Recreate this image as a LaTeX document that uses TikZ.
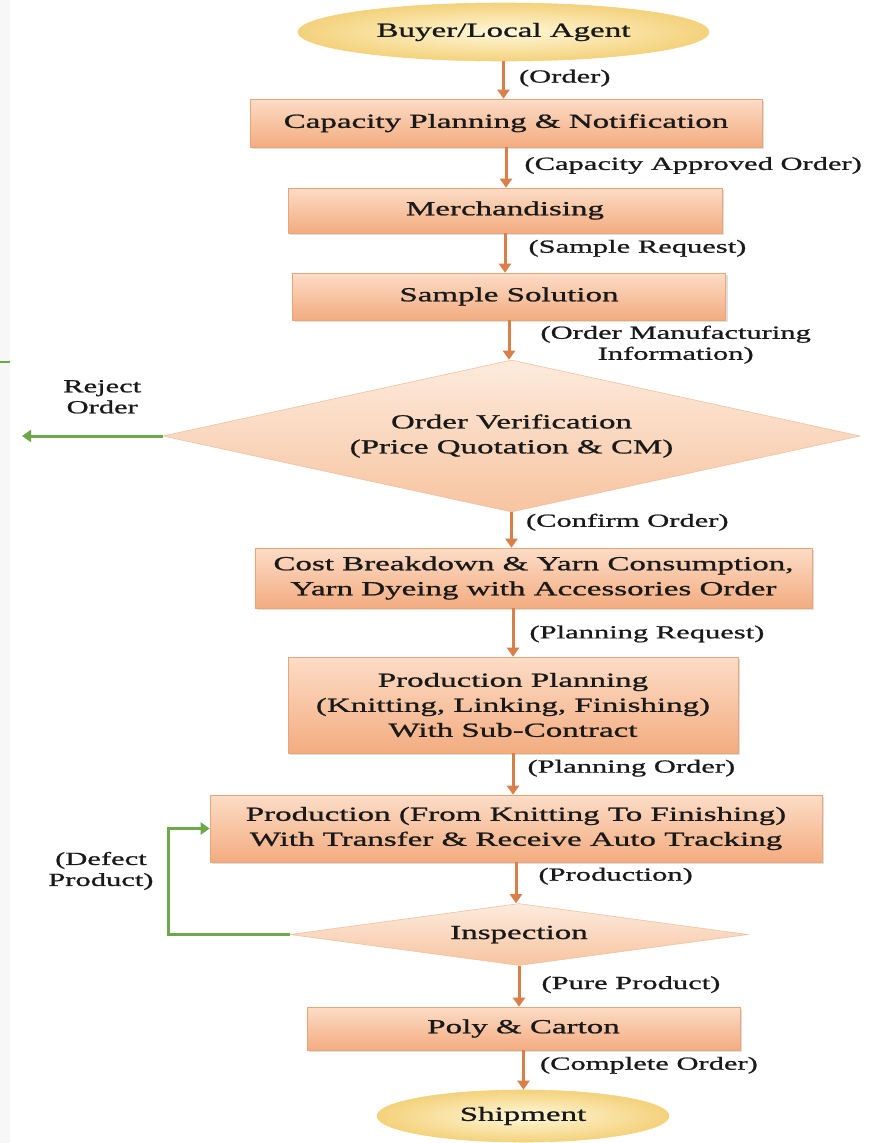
\documentclass[tikz,border=0pt]{standalone}
\usepackage{fontspec}
\setmainfont{Liberation Serif}[FakeStretch=1.65,FakeBold=1]
\usetikzlibrary{arrows.meta,shapes.geometric,positioning,shadows}
\definecolor{boxtop}{HTML}{FCDCC6}
\definecolor{boxbot}{HTML}{F3AC80}
\definecolor{boxline}{HTML}{E9A57A}
\definecolor{diatop}{HTML}{FDEBDD}
\definecolor{diabot}{HTML}{F7C4A0}
\definecolor{ovalin}{HTML}{FFF8DA}
\definecolor{ovalout}{HTML}{F4D27C}
\definecolor{flowcol}{HTML}{D9804A}
\definecolor{backcol}{HTML}{6EA84B}
\newcommand{\boxfont}{\fontsize{20}{25}\selectfont}
\newcommand{\labfont}{\fontsize{18.5}{21}\selectfont}
\tikzset{>={Triangle[width=12pt,length=9pt]}}
\tikzset{process/.style={shape=rectangle, draw=boxline, line width=0.6pt,
    top color=boxtop, bottom color=boxbot, inner sep=0pt, align=center,
    drop shadow={shadow xshift=2pt, shadow yshift=-2pt, opacity=0.25},
    font=\boxfont, text=black!90}}
\tikzset{decision/.style={shape=diamond, draw=boxline!70, line width=0.6pt,
    top color=diatop, bottom color=diabot, inner sep=0pt, align=center,
    font=\boxfont, text=black!90}}
\tikzset{terminal/.style={shape=ellipse, draw=ovalout, line width=0.6pt,
    inner color=ovalin, outer color=ovalout, inner sep=0pt,
    font=\boxfont, text=black!90}}
\tikzset{flow/.style={->, draw=flowcol, line width=3pt}}
\tikzset{back/.style={->, draw=backcol, line width=3pt}}
\tikzset{note/.style={font=\labfont, inner sep=3pt, align=center, text=black!90}}

\begin{document}
\begin{tikzpicture}[x=1pt, y=-1pt]
    \useasboundingbox (0,0) rectangle (889,1143);
    % slide edge
    \fill[gray!6] (0,0) rectangle (10,1143);
    \draw[backcol, line width=2pt] (0,362) -- (10,362);

    % order intake
    \node[terminal, minimum width=411pt, minimum height=58pt] (buyer) at (503.5,32) {Buyer/Local Agent};
    \node[process, minimum width=512pt, minimum height=48pt] (cap) at (506,123) {Capacity Planning \& Notification};
    \node[process, minimum width=434pt, minimum height=45pt] (merch) at (505,210.5) {Merchandising};
    \node[process, minimum width=433pt, minimum height=47pt] (sample) at (509,296.5) {Sample Solution};
    \node[decision, minimum width=697pt, minimum height=152pt, aspect=4.6] (ov) at (511.5,436) {Order Verification\\(Price Quotation \& CM)};
    \coordinate (reject) at (22,436);

    % production
    \node[process, minimum width=557pt, minimum height=60pt] (cost) at (533.5,578) {Cost Breakdown \& Yarn Consumption,\\Yarn Dyeing with Accessories Order};
    \node[process, minimum width=450pt, minimum height=96pt] (pp) at (513,705) {Production Planning\\(Knitting, Linking, Finishing)\\With Sub-Contract};
    \node[process, minimum width=612pt, minimum height=67pt] (prod) at (516,828.5) {Production (From Knitting To Finishing)\\With Transfer \& Receive Auto Tracking};
    \node[decision, minimum width=458pt, minimum height=62pt, aspect=7.4] (insp) at (519,934.5) {Inspection};
    \coordinate (bend) at (168,934.5);
    \node[process, minimum width=433pt, minimum height=43pt] (poly) at (523.5,1028.5) {Poly \& Carton};
    \node[terminal, minimum width=292pt, minimum height=52pt] (ship) at (523,1116) {Shipment};

    \draw [flow] (buyer.south) to node [note, right=11pt, pos=0.45] {(Order)} (buyer.south |- cap.north);
    \draw [flow] (cap.south) to node [note, right=14pt, pos=0.45] {(Capacity Approved Order)} (cap.south |- merch.north);
    \draw [flow] (merch.south) to node [note, right=19pt, pos=0.38] {(Sample Request)} (merch.south |- sample.north);
    \draw [flow] (sample.south) to node [note, right=27pt, pos=0.62] {(Order Manufacturing\\Information)} (sample.south |- ov.north);
    \draw [back] (ov.west) to node [note, above=18pt, pos=0.43] {Reject\\Order} (reject);
    \draw [flow] (ov.south) to node [note, right=10pt, pos=0.28] {(Confirm Order)} (ov.south |- cost.north);
    \draw [flow] (cost.south -| pp.north) to node [note, right=12pt, pos=0.53] {(Planning Request)} (pp.north);
    \draw [flow] (pp.south) to node [note, right=10pt, pos=0.36] {(Planning Order)} (pp.south |- prod.north);
    \draw [flow] (prod.south) to node [note, right=18pt, pos=0.34] {(Production)} (prod.south |- insp.north);
    \draw [back] (insp.west) -- (bend) |- node [note, left=10pt, pos=0.3] {(Defect\\Product)} (prod.west);
    \draw [flow] (insp.south) to node [note, right=18pt, pos=0.46] {(Pure Product)} (insp.south |- poly.north);
    \draw [flow] (poly.south) to node [note, right=12pt, pos=0.38] {(Complete Order)} (poly.south |- ship.north);
\end{tikzpicture}
\end{document}
